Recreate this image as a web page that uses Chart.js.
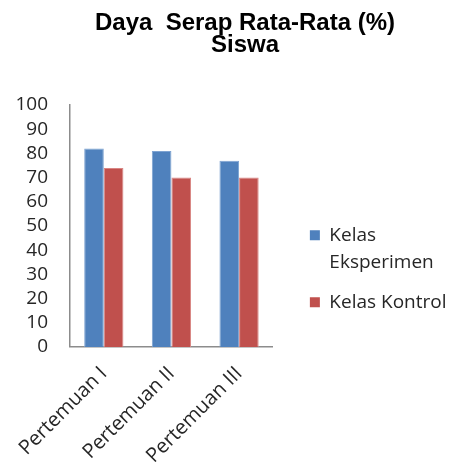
<!DOCTYPE html>
<html>
<head>
<meta charset="utf-8">
<script src="https://cdn.jsdelivr.net/npm/chart.js@4.4.1/dist/chart.umd.min.js"></script>
<style>
  html, body { margin: 0; padding: 0; background: #ffffff; }
  #wrap { width: 451px; height: 465px; position: relative; }
</style>
</head>
<body>
<div id="wrap"><canvas id="chart"></canvas></div>
<script>
// Data
const categories = ['Pertemuan I', 'Pertemuan II', 'Pertemuan III'];
const seriesNames = ['Kelas Eksperimen', 'Kelas Kontrol'];
const legendLines = [['Kelas', 'Eksperimen'], 'Kelas Kontrol'];
const kelasEksperimen = [82, 81, 77];
const kelasKontrol = [74, 70, 70];
const yMin = 0;
const yMax = 100;
const yStep = 10;
const titleLines = ['Daya  Serap Rata-Rata (%)', 'Siswa'];

const labelFont = 'Open Sans';
const axisColor = '#8c8c8c';
const textColor = '#262626';

// Moves the title block sideways by a fixed amount after layout.
const titleShift = {
  id: 'titleShift',
  afterLayout(chart, args, opts) {
    const t = chart.titleBlock;
    if (t && opts.dx) {
      t.left += opts.dx;
      t.right += opts.dx;
    }
  }
};

new Chart(document.getElementById('chart'), {
  type: 'bar',
  plugins: [titleShift],
  data: {
    labels: categories,
    datasets: [
      {
        label: seriesNames[0],
        data: kelasEksperimen,
        backgroundColor: '#4F81BD',
        borderColor: '#7ea3d2',
        borderWidth: 1,
        categoryPercentage: 0.58,
        barPercentage: 1.0
      },
      {
        label: seriesNames[1],
        data: kelasKontrol,
        backgroundColor: '#C0504D',
        borderColor: '#d98583',
        borderWidth: 1,
        categoryPercentage: 0.58,
        barPercentage: 1.0
      }
    ]
  },
  options: {
    responsive: true,
    maintainAspectRatio: false,
    animation: false,
    layout: { padding: { left: 0, right: -5.5, top: 0, bottom: -18 } },
    plugins: {
      tooltip: { enabled: false },
      titleShift: { dx: 16.75 },
      title: {
        display: true,
        text: titleLines,
        color: '#000000',
        font: { family: 'Liberation Sans', size: 24, weight: 'bold', lineHeight: '22.5px' },
        padding: { top: 12, bottom: 48 }
      },
      legend: {
        position: 'right',
        align: 'center',
        maxWidth: 220,
        title: { display: true, text: '', font: { size: 12 }, padding: { top: 40, bottom: 0 } },
        labels: {
          boxWidth: 10,
          boxHeight: 10,
          padding: 13,
          color: textColor,
          font: { family: labelFont, size: 19, lineHeight: '27px' },
          generateLabels(chart) {
            const items = Chart.defaults.plugins.legend.labels.generateLabels(chart);
            items.forEach((item, i) => {
              item.text = legendLines[i];
              item.lineWidth = 0;
            });
            return items;
          }
        }
      }
    },
    scales: {
      x: {
        grid: { display: false, drawTicks: false },
        border: { display: true, color: axisColor, width: 1.5 },
        ticks: {
          color: textColor,
          font: { family: labelFont, size: 20 },
          minRotation: 45,
          maxRotation: 45,
          autoSkip: false,
          padding: 15
        },
        // the rotated first label may hang past the value axis
        afterFit(scale) { scale.paddingLeft = 0; }
      },
      y: {
        min: yMin,
        max: yMax,
        grid: { display: false, drawTicks: false },
        border: { display: true, color: axisColor, width: 1.5 },
        ticks: {
          stepSize: yStep,
          autoSkip: false,
          color: textColor,
          font: { family: labelFont, size: 19 },
          padding: 22
        },
        afterFit(scale) { scale.width = 70; }
      },
      gap: {
        type: 'linear',
        position: 'right',
        display: true,
        grid: { display: false, drawTicks: false },
        border: { display: false },
        ticks: { display: false },
        afterFit(scale) { scale.width = 24; }
      }
    }
  }
});
</script>
</body>
</html>
